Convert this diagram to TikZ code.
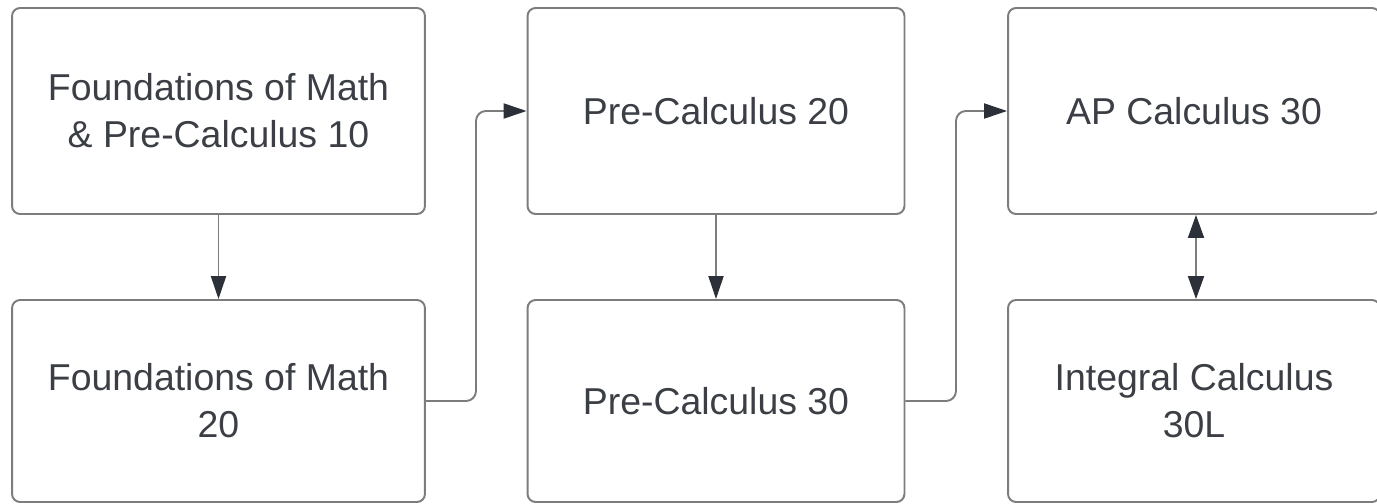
\documentclass[tikz,border=0pt]{standalone}
\usepackage{fontspec}
\setmainfont{Liberation Sans}
\usetikzlibrary{arrows.meta}

\definecolor{boxline}{HTML}{7C7C7C}
\definecolor{txtgray}{HTML}{3B3F45}
\definecolor{tipdark}{HTML}{2C3038}

\tikzset{
  course/.style={draw=boxline, line width=1.1pt, rounded corners=0.16cm,
    align=center, text=txtgray, font=\fontsize{21.3}{26.7}\selectfont},
  link/.style={draw=boxline, line width=1.1pt, rounded corners=0.2cm,
    -{Triangle[length=0.46cm,width=0.3cm,color=tipdark]}},
  twoway/.style={draw=boxline, line width=1.1pt,
    {Triangle[length=0.46cm,width=0.32cm,color=tipdark]}-{Triangle[length=0.46cm,width=0.32cm,color=tipdark]}}
}

\begin{document}
\begin{tikzpicture}[x=0.02cm, y=-0.02cm]
        \useasboundingbox (0,0) rectangle (1377,504);
        \clip (0,0) rectangle (1377,504);
        % left column
        \node[course, minimum width=8.26cm, minimum height=4.12cm] (fom10) at (218.5,111)
          {Foundations of Math\\\& Pre-Calculus 10};
        \node[course, minimum width=8.26cm, minimum height=4.04cm] (fom20) at (218.5,401)
          {Foundations of Math\\20};
        % middle column
        \node[course, minimum width=7.54cm, minimum height=4.12cm] (pc20) at (716,111)
          {Pre-Calculus 20};
        \node[course, minimum width=7.54cm, minimum height=4.04cm] (pc30) at (716,401)
          {Pre-Calculus 30};
        % right column (runs past the right margin)
        \node[course, minimum width=7.44cm, minimum height=4.12cm] (ap30) at (1194,111)
          {AP Calculus 30};
        \node[course, minimum width=7.44cm, minimum height=4.04cm] (ic30) at (1194,401)
          {Integral Calculus\\30L};
        % arrows
        \draw[link] (fom10) -- (fom20);
        \draw[link] (pc20) -- (pc30);
        \draw[twoway] (ap30.south -| 1196,0) -- (ic30.north -| 1196,0);
        \draw[link] (fom20.east) -- (476,401) -- (476,111) -- (pc20.west);
        \draw[link] (pc30.east) -- (956,401) -- (956,111) -- (ap30.west);
\end{tikzpicture}
\end{document}
